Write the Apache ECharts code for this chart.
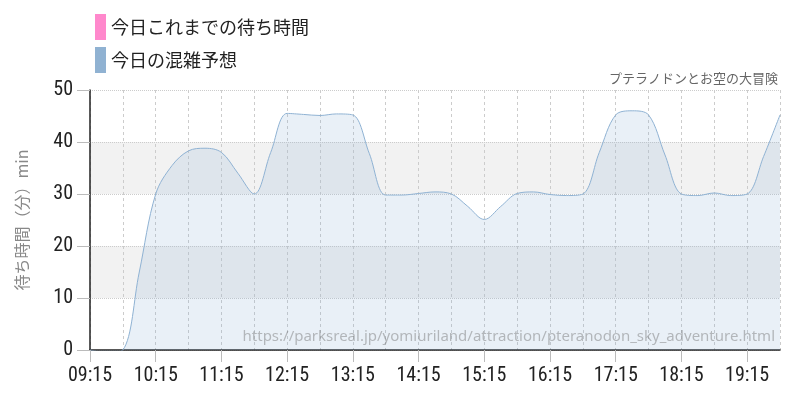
<!DOCTYPE html>
<html>
<head>
<meta charset="utf-8">
<script src="https://cdn.jsdelivr.net/npm/echarts@6/dist/echarts.min.js"></script>
<style>html,body{margin:0;padding:0;background:#fff}#c{width:800px;height:400px}</style>
</head>
<body>
<div id="c"></div>
<script>
// ---- data ----
var times = ['09:15','09:30','09:45','10:00','10:15','10:30','10:45','11:00','11:15','11:30','11:45',
  '12:00','12:15','12:30','12:45','13:00','13:15','13:30','13:45','14:00','14:15','14:30','14:45',
  '15:00','15:15','15:30','15:45','16:00','16:15','16:30','16:45','17:00','17:15','17:30','17:45',
  '18:00','18:15','18:30','18:45','19:00','19:15','19:30','19:45'];
var waitSoFar = [];
var forecast = [0,-0.5,0,15,30,35.5,38.3,38.8,38,34,30,
  38,45.5,45.3,45.1,45.4,45.2,37.8,29.8,29.8,30.1,30.4,30,
  27.6,25.1,27.6,30.1,30.4,29.9,29.7,30,38,45.2,46,45.2,
  37.5,30,29.7,30.2,29.7,30,37.2,45.2];
var yTicks = [0,10,20,30,40,50];
var seriesNames = ['今日これまでの待ち時間','今日の混雑予想'];
var titleText = 'プテラノドンとお空の大冒険';
var yName = '待ち時間（分）min';
var sourceUrl = 'https://parksreal.jp/yomiuriland/attraction/pteranodon_sky_adventure.html';

var numFont = '"Roboto Condensed","Liberation Sans Narrow","DejaVu Sans Condensed",Roboto,sans-serif';
var jpFont = '"Noto Sans CJK JP","Noto Sans",sans-serif';

var chart = echarts.init(document.getElementById('c'));
chart.setOption({
  animation: false,
  title: {
    text: titleText, right: 17, top: 67,
    textStyle: {fontSize: 13, fontWeight: 'normal', color: '#666', fontFamily: jpFont}
  },
  legend: {
    orient: 'vertical', left: 90, top: 9, itemWidth: 11, itemHeight: 26, itemGap: 7,
    icon: 'rect',
    textStyle: {fontSize: 18, color: '#222', fontFamily: jpFont},
    data: seriesNames
  },
  grid: {left: 90, right: 20, top: 90, bottom: 50},
  xAxis: {
    type: 'category', data: times, boundaryGap: false,
    axisLine: {lineStyle: {color: '#222', width: 1.5}},
    axisTick: {interval: 3, length: 12, lineStyle: {color: '#bbb'}},
    axisLabel: {interval: 3, margin: 16, fontSize: 20, color: '#222', fontFamily: numFont},
    splitLine: {show: true, interval: 1, lineStyle: {color: '#ccc', type: [3,3]}}
  },
  yAxis: {
    type: 'value', min: 0, max: 50, interval: 10,
    name: yName, nameLocation: 'middle', nameGap: 60, nameRotate: 90,
    nameTextStyle: {fontSize: 16, color: '#888', fontFamily: jpFont},
    axisLine: {show: true, lineStyle: {color: '#222', width: 1.5}},
    axisTick: {show: true, length: 13, lineStyle: {color: '#bbb'}},
    axisLabel: {margin: 17, fontSize: 20, color: '#222', fontFamily: numFont,
      formatter: function (v) { return yTicks.indexOf(v) >= 0 ? String(v) : ''; }},
    splitLine: {show: true, lineStyle: {color: '#ccc', type: 'dotted'}},
    splitArea: {show: true, areaStyle: {color: ['rgba(0,0,0,0)', '#f2f2f2']}}
  },
  graphic: [{
    type: 'text', right: 25, bottom: 56, z: 10,
    style: {text: sourceUrl, fontSize: 15, fill: 'rgba(110,110,110,0.45)', fontFamily: '"Noto Sans",sans-serif'}
  }],
  series: [
    {name: seriesNames[0], type: 'line', data: waitSoFar, symbol: 'none',
      itemStyle: {color: '#ff88cc'}, lineStyle: {color: '#ff88cc'}},
    {name: seriesNames[1], type: 'line', data: forecast, smooth: 0.35, symbol: 'none',
      itemStyle: {color: '#90b2d2'},
      lineStyle: {color: '#8fb2d3', width: 1},
      areaStyle: {color: 'rgba(131,171,207,0.25)'}}
  ]
});
</script>
</body>
</html>
